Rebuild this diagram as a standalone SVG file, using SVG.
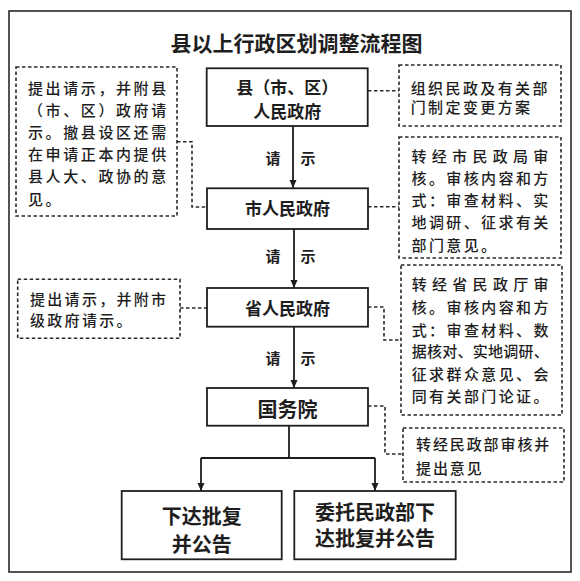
<svg xmlns="http://www.w3.org/2000/svg" width="580" height="581" viewBox="0 0 580 581">
<defs>
<style>
.frame{fill:#fff;stroke:#2a2a2a;stroke-width:1.6}
.node rect{fill:#fff;stroke:#1e1e1e;stroke-width:1.8}
.note rect{fill:#fff;stroke:#2a2a2a;stroke-width:1.6;stroke-dasharray:3.5 2.5}
.dash{fill:none;stroke:#2a2a2a;stroke-width:1.6;stroke-dasharray:3.5 2.5}
.solid{fill:none;stroke:#1e1e1e;stroke-width:1.8}
text{font-family:"Noto Sans CJK SC","Noto Sans",sans-serif;fill:#1e1e1e;dominant-baseline:central}
.title{font-size:21px;font-weight:700;text-anchor:middle}
.nt{font-size:17px;font-weight:700;text-anchor:middle}
.nb{font-size:20px;font-weight:700;text-anchor:middle}
.tx{font-size:15px;font-weight:500}
.lab{font-size:15px;font-weight:700;text-anchor:middle}
</style>
<marker id="ah" viewBox="0 0 8 8" refX="8" refY="4" markerWidth="8" markerHeight="8" markerUnits="userSpaceOnUse" orient="auto">
<path d="M0,0.5 L8,4 L0,7.5 Z" fill="#1e1e1e"/>
</marker>
</defs>
<rect x="0" y="0" width="580" height="581" fill="#fff"/>
<rect class="frame" x="9" y="11" width="562" height="561"/>
<text class="title" x="296.5" y="42">县以上行政区划调整流程图</text>

<g id="connectors">
<path class="solid" d="M293,126 V188" marker-end="url(#ah)"/>
<path class="solid" d="M294,229 V288" marker-end="url(#ah)"/>
<path class="solid" d="M294,327 V388" marker-end="url(#ah)"/>
<path class="solid" d="M289,426 V458"/>
<path class="solid" d="M201,458 H375"/>
<path class="solid" d="M201,458 V491" marker-end="url(#ah)"/>
<path class="solid" d="M375,458 V491" marker-end="url(#ah)"/>
<path class="dash" d="M177,141.7 H192 V207 H207"/>
<path class="dash" d="M368,90.7 H399"/>
<path class="dash" d="M368,206.7 H399"/>
<path class="dash" d="M180,308 H207"/>
<path class="dash" d="M368,307 H384 V340 H401"/>
<path class="dash" d="M368,406 H385 V454 H403"/>
<text class="lab" x="273" y="157">请</text>
<text class="lab" x="308" y="157">示</text>
<text class="lab" x="273" y="255">请</text>
<text class="lab" x="308" y="255">示</text>
<text class="lab" x="273" y="357">请</text>
<text class="lab" x="308" y="357">示</text>
</g>

<g id="n-county" class="node">
<rect x="206.7" y="68.3" width="161" height="57.7"/>
<text class="nt" x="287.2" y="86"><tspan x="287.2" y="86">县（市、区）</tspan><tspan x="287.2" y="109.5">人民政府</tspan></text>
</g>
<g id="n-city" class="node">
<rect x="207" y="188.3" width="161" height="40.7"/>
<text class="nt" x="287.5" y="207">市人民政府</text>
</g>
<g id="n-province" class="node">
<rect x="207" y="288" width="161" height="38.7"/>
<text class="nt" x="287.5" y="307">省人民政府</text>
</g>
<g id="n-state" class="node">
<rect x="207" y="388" width="161" height="37.7"/>
<text class="nb" x="287.5" y="408">国务院</text>
</g>
<g id="n-approve" class="node">
<rect x="121.7" y="491" width="160" height="68.3"/>
<text class="nb" x="201.7" y="515">下达批复</text>
<text class="nb" x="201.7" y="543">并公告</text>
</g>
<g id="n-entrust" class="node">
<rect x="294.3" y="491" width="161.4" height="68.3"/>
<text class="nb" x="375" y="511">委托民政部下</text>
<text class="nb" x="375" y="537.5">达批复并公告</text>
</g>

<g id="note-l1" class="note">
<rect x="16" y="67" width="161" height="149"/>
<text class="tx" x="28" y="87" letter-spacing="2.6">提出请示，并附县</text>
<text class="tx" x="28" y="109" letter-spacing="2.6">（市、区）政府请</text>
<text class="tx" x="28" y="131.5" letter-spacing="2.6">示。撤县设区还需</text>
<text class="tx" x="28" y="153.5" letter-spacing="2.6">在申请正本内提供</text>
<text class="tx" x="28" y="175.5" letter-spacing="2.6">县人大、政协的意</text>
<text class="tx" x="28" y="198" letter-spacing="2.6">见。</text>
</g>
<g id="note-r1" class="note">
<rect x="399" y="65" width="162" height="61"/>
<text class="tx" x="410.7" y="87" letter-spacing="2.4">组织民政及有关部</text>
<text class="tx" x="410.7" y="106.5" letter-spacing="2.4">门制定变更方案</text>
</g>
<g id="note-r2" class="note">
<rect x="399" y="137" width="162" height="121"/>
<text class="tx" x="411.5" y="155" letter-spacing="5.3">转经市民政局审</text>
<text class="tx" x="411.5" y="177" letter-spacing="2.4">核。审核内容和方</text>
<text class="tx" x="411.5" y="199" letter-spacing="2.4">式：审查材料、实</text>
<text class="tx" x="411.5" y="221" letter-spacing="2.4">地调研、征求有关</text>
<text class="tx" x="411.5" y="244" letter-spacing="2.4">部门意见。</text>
</g>
<g id="note-l2" class="note">
<rect x="17.7" y="279.3" width="162.3" height="59"/>
<text class="tx" x="30" y="298" letter-spacing="2.3">提出请示，并附市</text>
<text class="tx" x="30" y="319" letter-spacing="2.3">级政府请示。</text>
</g>
<g id="note-r3" class="note">
<rect x="401" y="265" width="161" height="150"/>
<text class="tx" x="411.7" y="283.3" letter-spacing="5.3">转经省民政厅审</text>
<text class="tx" x="411.7" y="306.7" letter-spacing="2.4">核。审核内容和方</text>
<text class="tx" x="411.7" y="329" letter-spacing="2.4">式：审查材料、数</text>
<text class="tx" x="411.7" y="350.7" letter-spacing="0.25">据核对、实地调研、</text>
<text class="tx" x="411.7" y="373.3" letter-spacing="2.4">征求群众意见、会</text>
<text class="tx" x="411.7" y="395.7" letter-spacing="2.4">同有关部门论证。</text>
</g>
<g id="note-r4" class="note">
<rect x="403" y="428" width="161" height="54"/>
<text class="tx" x="416" y="443" letter-spacing="1.9">转经民政部审核并</text>
<text class="tx" x="416" y="467" letter-spacing="1.9">提出意见</text>
</g>
</svg>
